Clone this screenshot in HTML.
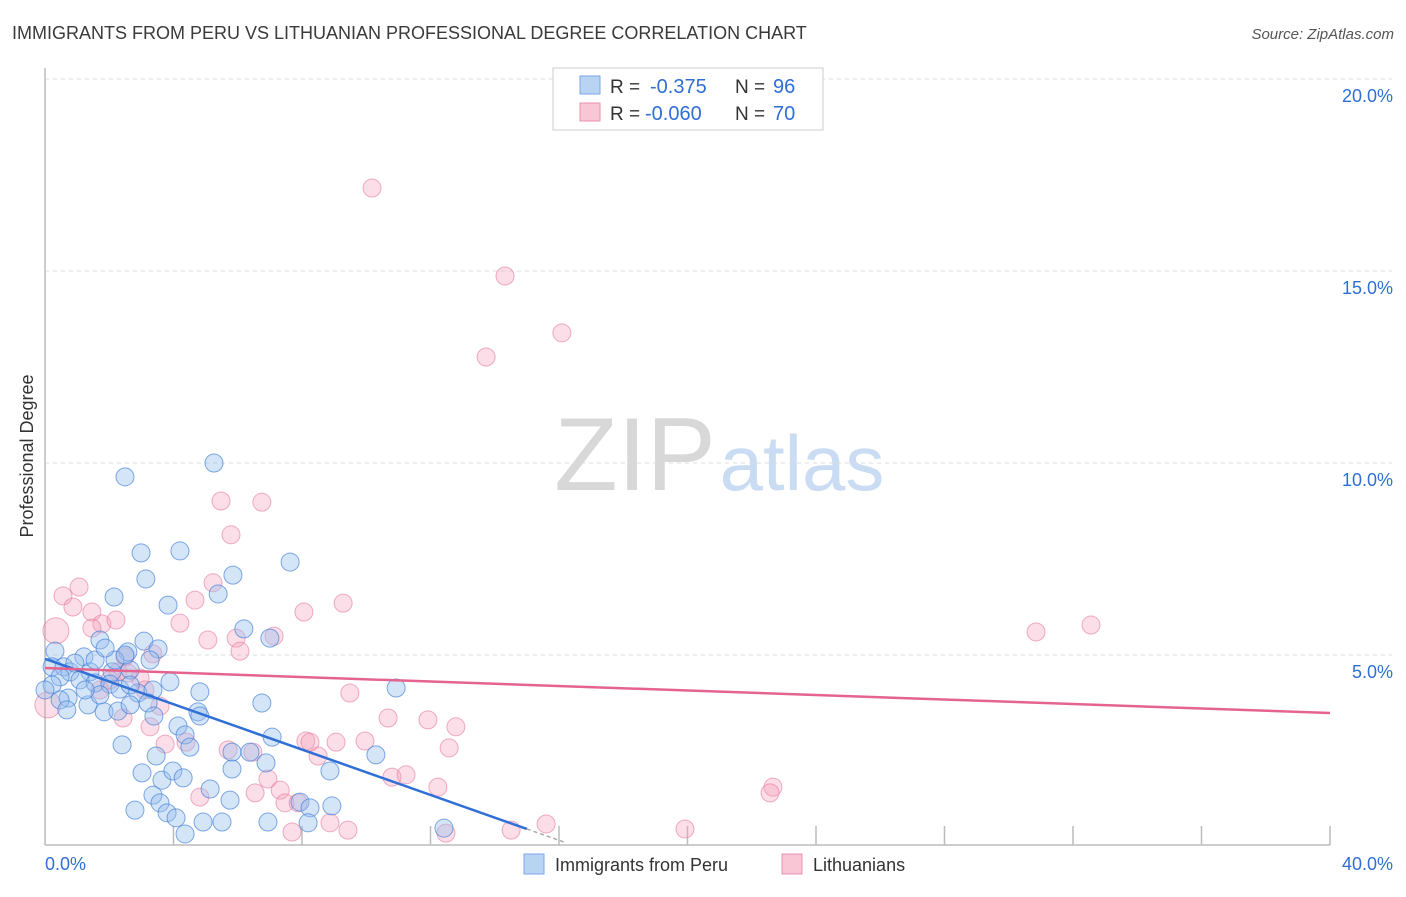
<!DOCTYPE html>
<html><head><meta charset="utf-8">
<style>
body{margin:0;background:#fff;font-family:"Liberation Sans",sans-serif;}
svg text{font-family:"Liberation Sans",sans-serif;}
</style></head>
<body>
<svg id="chart" width="1406" height="892" viewBox="0 0 1406 892" xmlns="http://www.w3.org/2000/svg">
<text x="12" y="39" font-size="18" fill="#3a3a3a">IMMIGRANTS FROM PERU VS LITHUANIAN PROFESSIONAL DEGREE CORRELATION CHART</text>
<text x="1394" y="39" font-size="15" fill="#555" text-anchor="end" font-style="italic">Source: ZipAtlas.com</text>
<g>
<text x="635" y="490" font-size="104" fill="#d8d8d8" text-anchor="middle" font-family="Liberation Serif, serif">ZIP</text>
<text x="802" y="490" font-size="78" fill="#c9dcf3" text-anchor="middle">atlas</text>
</g>
<g id="grid"></g>
<g id="axes"></g>
<g id="points"></g>
<g id="lines"></g>
<text transform="translate(33,456) rotate(-90)" font-size="18" fill="#333" text-anchor="middle">Professional Degree</text>
<g>
<rect x="553" y="68" width="270" height="62" fill="#fff" stroke="#ccc"/>
<rect x="580" y="76" width="20" height="18" fill="#b9d3f3" stroke="#7aa7e4"/>
<text x="610" y="93" font-size="19" fill="#333">R = </text>
<text x="650" y="93" font-size="20" fill="#2f6fd6">-0.375</text>
<text x="735" y="93" font-size="19" fill="#333">N = </text>
<text x="773" y="93" font-size="20" fill="#2f6fd6">96</text>
<rect x="580" y="103" width="20" height="18" fill="#f8c6d4" stroke="#eb90ac"/>
<text x="610" y="120" font-size="19" fill="#333">R = </text>
<text x="645" y="120" font-size="20" fill="#2f6fd6">-0.060</text>
<text x="735" y="120" font-size="19" fill="#333">N = </text>
<text x="773" y="120" font-size="20" fill="#2f6fd6">70</text>
</g>
<g>
<rect x="524" y="854" width="20" height="20" fill="#b9d3f3" stroke="#7aa7e4"/>
<text x="555" y="871" font-size="18" fill="#333">Immigrants from Peru</text>
<rect x="782" y="854" width="20" height="20" fill="#f8c6d4" stroke="#eb90ac"/>
<text x="813" y="871" font-size="18" fill="#333">Lithuanians</text>
</g>
</svg>
<script>
const yTicks=[5,10,15,20];
const yTickLabels=["5.0%","10.0%","15.0%","20.0%"];
const xTicks=[4,8,12,16,20,24,28,32,36,40];
const xEndLabels=["0.0%","40.0%"];
const peruX=[2.49,5.26,2.99,4.20,3.14,7.63,5.85,2.15,3.83,5.39,6.19,7.00,3.08,2.58,3.52,1.71,0.31,1.21,0.22,0.59,0.78,1.40,2.09,2.65,0.47,1.09,1.56,2.02,2.33,3.89,4.82,2.89,3.36,0.72,1.34,1.84,2.27,2.65,3.21,3.39,4.76,4.82,6.75,10.93,4.14,4.36,4.51,2.40,3.46,7.07,5.82,6.38,6.88,8.87,10.30,3.02,3.64,3.98,4.30,5.14,5.82,3.36,3.58,2.80,3.80,4.08,5.76,7.94,8.25,8.93,4.92,5.51,6.94,8.19,4.36,12.42,0.22,0.47,0.93,0.0,1.56,1.71,2.65,3.27,2.18,1.25,0.68,1.87,2.49];
const peruY=[9.64,10.0,7.66,7.71,6.98,7.42,7.08,6.51,6.30,6.59,5.68,5.44,5.36,5.08,5.16,5.39,5.10,4.95,4.69,4.69,4.56,4.56,4.56,4.61,4.43,4.35,4.27,4.24,4.11,4.30,4.04,4.01,4.09,3.88,3.70,3.52,3.54,3.70,3.75,3.41,3.52,3.41,3.75,4.14,3.15,2.92,2.60,2.66,2.37,2.86,2.47,2.47,2.19,1.98,2.40,1.93,1.74,1.98,1.80,1.51,2.03,1.35,1.15,0.96,0.89,0.76,1.22,1.17,1.02,1.07,0.65,0.65,0.65,0.63,0.34,0.49,4.22,3.83,4.79,4.09,4.87,3.96,4.22,4.87,4.87,4.09,3.57,5.18,5.00];
const lithX=[10.18,14.32,16.09,13.73,5.48,6.75,5.79,1.06,0.56,0.87,1.46,1.77,1.46,2.21,0.34,0.09,5.23,4.67,4.20,8.06,9.28,5.07,5.95,7.13,6.07,3.36,2.49,2.27,2.96,2.02,30.85,32.56,9.49,2.43,3.27,3.74,4.39,5.70,6.47,8.12,8.50,9.06,9.96,10.68,11.92,12.79,12.58,6.94,6.54,7.32,10.80,11.24,12.23,22.66,22.57,4.82,7.47,7.88,7.69,8.87,9.43,12.48,14.51,15.60,19.92,2.58,3.58,1.71,3.11,8.25];
const lithY=[17.16,14.87,13.39,12.76,9.01,8.98,8.13,6.77,6.54,6.25,6.12,5.81,5.70,5.91,5.63,3.70,6.88,6.43,5.83,6.12,6.35,5.39,5.44,5.49,5.10,5.03,4.95,4.56,4.40,4.35,5.60,5.78,4.01,3.36,3.13,2.68,2.73,2.53,2.47,2.76,2.37,2.73,2.76,3.36,3.31,3.13,2.58,1.77,1.41,1.48,1.82,1.88,1.56,1.56,1.41,1.30,1.15,1.15,0.39,0.63,0.44,0.36,0.44,0.60,0.47,4.53,3.67,4.09,4.09,2.73];
const lithWeight=[1,1,1,1,1,1,1,1,1,1,1,1,1,1,3,3,1,1,1,1,1,1,1,1,1,1,1,1,1,1,1,1,1,1,1,1,1,1,1,1,1,1,1,1,1,1,1,1,1,1,1,1,1,1,1,1,1,1,1,1,1,1,1,1,1,1,1,1,1,1];
const peruTrend=[4.9,0.47,15.0,16.2];
const lithTrend=[4.66,3.49,40];

const X0=45,X1=1330,Y0=847,YPX=38.4;
const sx=v=>X0+v*(X1-X0)/40;
const sy=v=>Y0-v*YPX;
const NS="http://www.w3.org/2000/svg";
function mk(tag,attrs,parent){const e=document.createElementNS(NS,tag);for(const k in attrs)e.setAttribute(k,attrs[k]);parent.appendChild(e);return e;}
const grid=document.getElementById('grid'),axes=document.getElementById('axes'),pts=document.getElementById('points'),lines=document.getElementById('lines');
yTicks.forEach((t,i)=>{
  const l=mk('line',{x1:X0,x2:1392,y1:sy(t),y2:sy(t),stroke:'#ddd','stroke-dasharray':'4,4'},grid);
  
  
  const tx=mk('text',{x:1393,y:sy(t)+23,'font-size':18,fill:'#2f6fd6','text-anchor':'end'},axes);
  tx.textContent=yTickLabels[i];
  
  
});
const ya=mk('line',{x1:X0,x2:X0,y1:68,y2:845,stroke:'#bbb','stroke-width':1.5},axes);


const xa=mk('line',{x1:X0,x2:X1,y1:845,y2:845,stroke:'#bbb','stroke-width':1.5},axes);


xTicks.forEach(t=>{
  const l=mk('line',{x1:sx(t),x2:sx(t),y1:826,y2:845,stroke:'#bbb','stroke-width':1.5},axes);
  
  
});
const xl0=mk('text',{x:45,y:870,'font-size':18,fill:'#2f6fd6'},axes);xl0.textContent=xEndLabels[0];


const xl1=mk('text',{x:1393,y:870,'font-size':18,fill:'#2f6fd6','text-anchor':'end'},axes);xl1.textContent=xEndLabels[1];


lithX.forEach((v,i)=>{
  const c=mk('circle',{cx:sx(v),cy:sy(lithY[i]),r:lithWeight[i]>1?13:9,fill:'rgba(244,160,186,0.35)',stroke:'rgba(232,120,155,0.6)','stroke-width':1},pts);
  
  
});
peruX.forEach((v,i)=>{
  const c=mk('circle',{cx:sx(v),cy:sy(peruY[i]),r:9,fill:'rgba(150,190,238,0.4)',stroke:'rgba(60,125,215,0.65)','stroke-width':1},pts);
  
  
});
const slope=(peruTrend[1]-peruTrend[0])/peruTrend[2];
const pl=mk('line',{x1:sx(0),y1:sy(peruTrend[0]),x2:sx(peruTrend[2]),y2:sy(peruTrend[1]),stroke:'#2f6fd6','stroke-width':2.5},lines);


const pd=mk('line',{x1:sx(peruTrend[2]),y1:sy(peruTrend[1]),x2:sx(peruTrend[3]),y2:sy(peruTrend[0]+slope*peruTrend[3]),stroke:'#aaa','stroke-width':1.5,'stroke-dasharray':'4,3'},lines);


const ll=mk('line',{x1:sx(0),y1:sy(lithTrend[0]),x2:sx(lithTrend[2]),y2:sy(lithTrend[1]),stroke:'#e4648f','stroke-width':2.5},lines);


</script>
</body></html>
